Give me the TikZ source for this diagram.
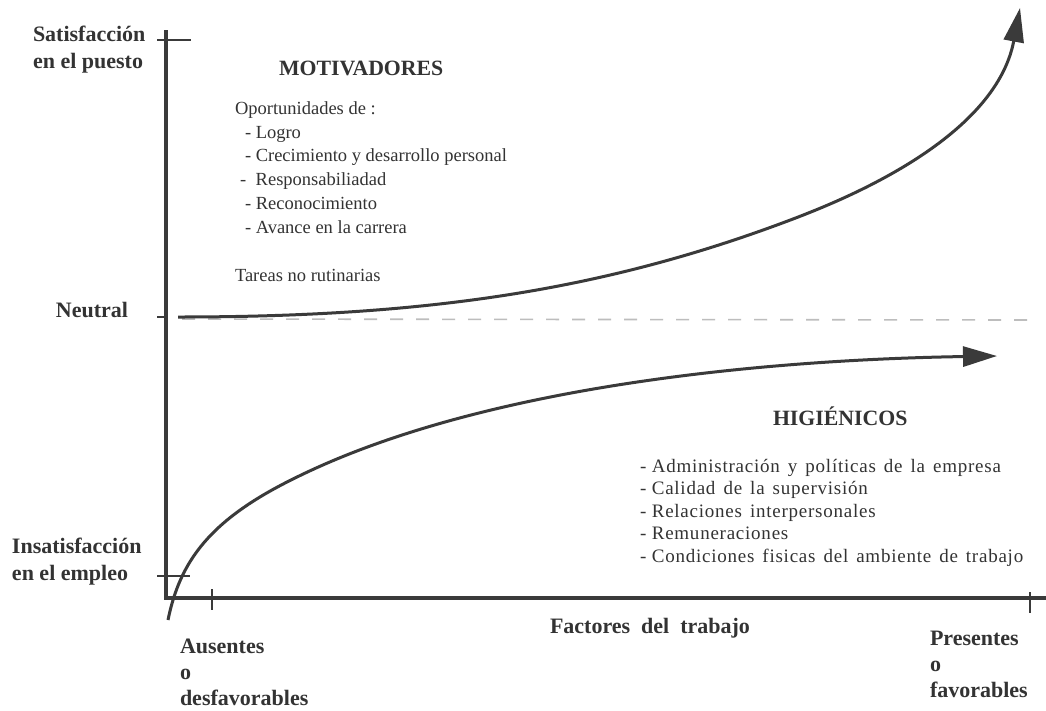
\documentclass[tikz,border=0pt]{standalone}
\usepackage{fontspec}
\setmainfont{Liberation Serif}
\usetikzlibrary{arrows.meta}
\definecolor{ink}{HTML}{333333}
\definecolor{curve}{HTML}{3A3A3A}
\definecolor{dashgray}{HTML}{BDBDBD}
\begin{document}
\begin{tikzpicture}[x=1pt,y=-1pt,
  lbl/.style={inner sep=0pt, outer sep=0pt, text=ink, align=left,
    font=\fontsize{22}{27}\selectfont\bfseries},
  lblb/.style={lbl, font=\fontsize{22}{26}\selectfont\bfseries},
  headtxt/.style={inner sep=0pt, outer sep=0pt, text=ink,
    font=\fontsize{21.8}{26}\selectfont\bfseries},
  motlist/.style={inner sep=0pt, outer sep=0pt, text=ink, align=left,
    font=\fontsize{18.5}{23.8}\selectfont},
  higlist/.style={inner sep=0pt, outer sep=0pt, text=ink, align=left,
    font=\fontsize{19}{22.5}\selectfont\addfontfeature{LetterSpace=4}},
  axis/.style={draw=curve, line width=3.2pt},
  tick/.style={draw=curve, line width=1.8pt},
  curveline/.style={draw=curve, line width=3pt,
    -{Triangle[length=34pt,width=20pt]}, fill=none},
  neutralline/.style={draw=dashgray, line width=1.6pt, dash pattern=on 13pt off 13pt}
]
\fill[white] (0,0) rectangle (1046,710);
\useasboundingbox (0,0) rectangle (1046,710);

% axes
\coordinate (otop) at (166,30);
\coordinate (orig) at (166,598);
\coordinate (xend) at (1046,598);
\draw[axis] (otop) -- (orig) -- (xend);

% ticks
\draw[tick] (157,40) -- (191,40);
\draw[tick] (157,317) -- (166,317);
\draw[tick] (157,576) -- (190,576);
\draw[tick] (212,589) -- (212,610);
\draw[tick] (1030,592) -- (1030,613);

% neutral dashed line
\coordinate (nl) at (182,319);
\coordinate (nr) at (1027,320);
\draw[neutralline] (nl) -- (nr);

% motivators curve
\coordinate (m0) at (178,317);
\coordinate (m1) at (793,219);
\coordinate (m2) at (1020,8);
\draw[curveline] (m0) .. controls (428,317) and (606,290) .. (m1)
  .. controls (840,201) and (995,140) .. (m2);

% hygiene curve
\coordinate (h0) at (168,620);
\coordinate (h1) at (293,479);
\coordinate (h2) at (997,356);
\draw[curveline] (h0) .. controls (180,561) and (210,520) .. (h1)
  .. controls (473,389) and (750,360) .. (h2);

% axis labels
\node[lbl, anchor=base west] (sat) at (33,68) {Satisfacción\\en el puesto};
\node[lbl, anchor=base east] (neu) at (128,317) {Neutral};
\node[lbl, anchor=base west] (ins) at (12,580) {Insatisfacción\\en el empleo};
\node[lblb, anchor=base west] (aus) at (180,705) {Ausentes\\o\\desfavorables};
\node[lblb, anchor=base west] (pre) at (930,697) {Presentes\\o\\favorables};
\node[lbl, anchor=base west] (fac) at (550,633) {Factores\hspace{11pt}del\hspace{11pt}trabajo};

% motivators block
\node[headtxt, anchor=base west] (mot) at (279,75) {MOTIVADORES};
\node[motlist, anchor=base west] (mlist) at (235,281) {Oportunidades de :\\
\hspace*{10pt}- Logro\\
\hspace*{10pt}- Crecimiento y desarrollo personal\\
\hspace*{5pt}-\hspace{9.6pt}Responsabiliadad\\
\hspace*{10pt}- Reconocimiento\\
\hspace*{10pt}- Avance en la carrera\\[24pt]
Tareas no rutinarias};

% hygiene block
\node[headtxt, anchor=base west] (hig) at (773,425) {HIGIÉNICOS};
\node[higlist, anchor=base west] (hlist) at (640,562) {- Administración\hspace{8pt}y\hspace{8pt}políticas\hspace{8pt}de\hspace{8pt}la\hspace{8pt}empresa\\
- Calidad\hspace{8pt}de\hspace{8pt}la\hspace{8pt}supervisión\\
- Relaciones\hspace{8pt}interpersonales\\
- Remuneraciones\\
- Condiciones\hspace{8pt}fisicas\hspace{8pt}del\hspace{8pt}ambiente\hspace{8pt}de\hspace{8pt}trabajo};
\end{tikzpicture}
\end{document}
